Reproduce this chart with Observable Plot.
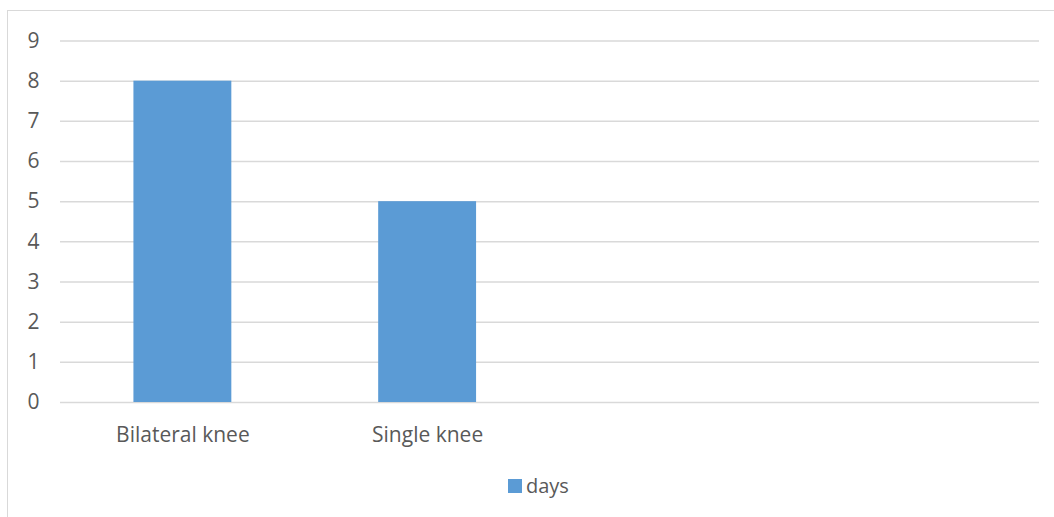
<!DOCTYPE html>
<html>
<head>
<meta charset="utf-8">
<script src="https://cdn.jsdelivr.net/npm/d3@7"></script>
<script src="https://cdn.jsdelivr.net/npm/@observablehq/plot@0.6"></script>
<style>
  html, body { margin: 0; padding: 0; background: #fff; }
  #wrap { position: relative; width: 1054px; height: 517px; overflow: hidden; font-family: "Open Sans", "Liberation Sans", sans-serif; }
  #frame { position: absolute; left: 7px; top: 10px; width: 1100px; height: 600px; border: 1px solid #d9d9d9; box-sizing: border-box; }
  #chart { position: absolute; left: 0; top: 0; }
  #chart svg text { font-size: 21px !important; font-family: "Open Sans", "Liberation Sans", sans-serif !important; }
  #legend { position: absolute; left: 508px; top: 472px; font-size: 20px; line-height: normal; color: #595959; white-space: nowrap; }
  #legend .sw { display: inline-block; width: 14px; height: 14px; background: #5b9bd5; margin-right: 4px; }
</style>
</head>
<body>
<div id="wrap">
  <div id="frame"></div>
  <div id="chart"></div>
  <div id="legend"><span class="sw"></span>days</div>
</div>
<script>
const categories = ["Bilateral knee", "Single knee", "_c3", "_c4"];
const labels = ["Bilateral knee", "Single knee", "", ""];
const days = [8, 5, null, null];
const yTicks = [0, 1, 2, 3, 4, 5, 6, 7, 8, 9];

const data = categories.map((c, i) => ({category: c, days: days[i]})).filter(d => d.days != null);

const chart = Plot.plot({
  width: 1054,
  height: 452,
  marginLeft: 60,
  marginRight: 15,
  marginTop: 40.5,
  marginBottom: 50,
  style: {fontFamily: "'Open Sans', 'Liberation Sans', sans-serif", fontSize: "21px", color: "#595959", background: "transparent"},
  x: {domain: categories, paddingInner: 0.6, paddingOuter: 0.3, round: false, label: null},
  y: {domain: [0, 9], label: null},
  marks: [
    Plot.gridY(yTicks, {stroke: "#d9d9d9", strokeOpacity: 1, strokeWidth: 1.5}),
    Plot.barY(data, {x: "category", y: "days", fill: "#5b9bd5"}),
    Plot.axisX({tickSize: 0, tickPadding: 25, fontSize: 21, fill: "#595959",
      tickFormat: (d) => labels[categories.indexOf(d)]}),
    Plot.axisY(yTicks, {tickSize: 0, tickPadding: 21, fontSize: 21, fill: "#595959"})
  ]
});
document.getElementById("chart").appendChild(chart);
</script>
</body>
</html>
